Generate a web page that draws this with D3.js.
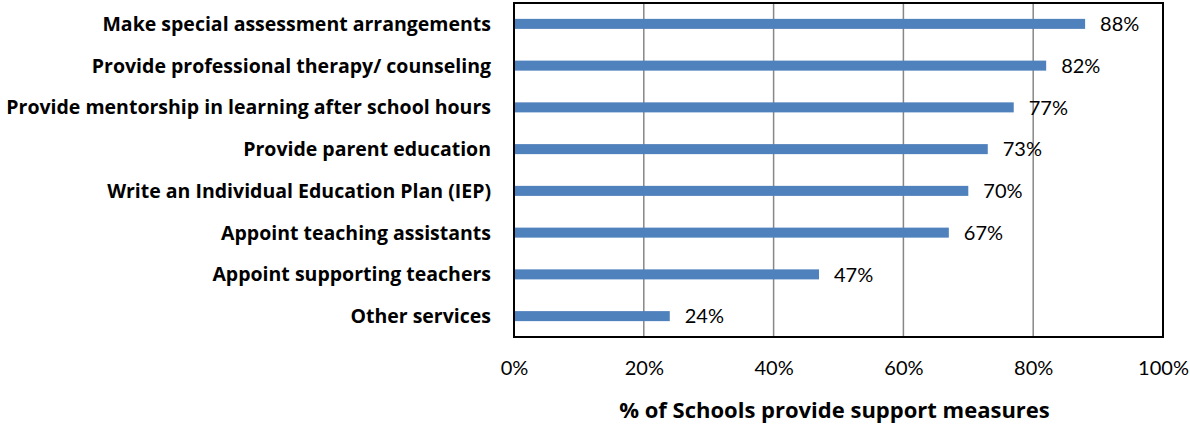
<!DOCTYPE html>
<html>
<head>
<meta charset="utf-8">
<script src="https://cdn.jsdelivr.net/npm/d3@7"></script>
<style>
  html, body { margin: 0; padding: 0; background: #fff; }
  svg text { font-family: Lato, "Open Sans", "Liberation Sans", sans-serif; }
  svg text.bold { font-family: "Open Sans", Lato, "Liberation Sans", sans-serif; font-weight: bold; }
</style>
</head>
<body>
<svg id="chart" width="1190" height="427"></svg>
<script>
// Support measures offered by schools
const categories = [
  "Make special assessment arrangements",
  "Provide professional therapy/ counseling",
  "Provide mentorship in learning after school hours",
  "Provide parent education",
  "Write an Individual Education Plan (IEP)",
  "Appoint teaching assistants",
  "Appoint supporting teachers",
  "Other services"
];
const values = [88, 82, 77, 73, 70, 67, 47, 24];
const tickValues = [0, 20, 40, 60, 80, 100];
const axisTitle = "% of Schools provide support measures";

const svg = d3.select("#chart");
const plot = { left: 514, right: 1163, top: 3, bottom: 337 };

const x = d3.scaleLinear().domain([0, 100]).range([plot.left, plot.right]);
const y = d3.scaleBand().domain(categories).range([plot.top, plot.bottom]).paddingInner(0.76).paddingOuter(0.38);

// vertical gridlines
svg.append("g")
  .selectAll("line")
  .data(tickValues.filter(d => d > 0 && d < 100))
  .join("line")
  .attr("x1", d => x(d)).attr("x2", d => x(d))
  .attr("y1", plot.top).attr("y2", plot.bottom)
  .attr("stroke", "#878787").attr("stroke-width", 1.5);

// bars
svg.append("g")
  .selectAll("rect")
  .data(categories)
  .join("rect")
  .attr("x", x(0))
  .attr("y", d => y(d))
  .attr("width", (d, i) => x(values[i]) - x(0))
  .attr("height", y.bandwidth())
  .attr("fill", "#4F81BD");

// value labels
svg.append("g")
  .selectAll("text")
  .data(categories)
  .join("text")
  .attr("x", (d, i) => x(values[i]) + 15)
  .attr("y", d => y(d) + y.bandwidth() / 2)
  .attr("dy", "0.36em")
  .attr("font-size", 20)
  .attr("fill", "#000")
  .text((d, i) => values[i] + "%");

// category labels
svg.append("g")
  .selectAll("text")
  .data(categories)
  .join("text")
  .attr("class", "bold")
  .attr("x", plot.left - 23)
  .attr("y", d => y(d) + y.bandwidth() / 2)
  .attr("dy", "0.36em")
  .attr("text-anchor", "end")
  .attr("font-size", 19.5)
  .attr("fill", "#000")
  .text(d => d);

// plot frame
svg.append("rect")
  .attr("x", plot.left).attr("y", plot.top)
  .attr("width", plot.right - plot.left).attr("height", plot.bottom - plot.top)
  .attr("fill", "none").attr("stroke", "#000").attr("stroke-width", 2);

// x axis tick labels
const xAxis = d3.axisBottom(x)
  .tickValues(tickValues)
  .tickSize(0)
  .tickPadding(0)
  .tickFormat(d => d + "%");
const gx = svg.append("g")
  .attr("transform", `translate(0,${plot.bottom + 24})`)
  .call(xAxis);
gx.select(".domain").remove();
gx.selectAll("text")
  .attr("font-size", 20)
  .attr("font-family", "Lato, 'Open Sans', 'Liberation Sans', sans-serif")
  .attr("fill", "#000");

// axis title
svg.append("text")
  .attr("class", "bold")
  .attr("x", (plot.left + plot.right) / 2 - 4)
  .attr("y", 418)
  .attr("text-anchor", "middle")
  .attr("font-size", 22)
  .attr("fill", "#000")
  .text(axisTitle);
</script>
</body>
</html>
